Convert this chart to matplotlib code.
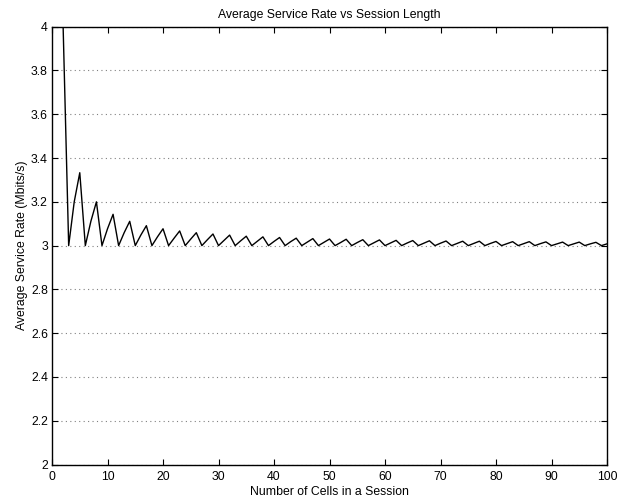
import numpy as np
import matplotlib
matplotlib.use("Agg")
import matplotlib.pyplot as plt

plt.rcParams['font.family'] = ['Liberation Sans', 'DejaVu Sans']

# number of cells in a session
cells = list(range(1, 101))
# average service rate (Mbits/s)
rate = [
    4.000, 4.000, 3.000, 3.200, 3.333, 3.000, 3.111, 3.200, 3.000, 3.077,
    3.143, 3.000, 3.059, 3.111, 3.000, 3.048, 3.091, 3.000, 3.040, 3.077,
    3.000, 3.034, 3.067, 3.000, 3.030, 3.059, 3.000, 3.027, 3.053, 3.000,
    3.024, 3.048, 3.000, 3.022, 3.043, 3.000, 3.020, 3.040, 3.000, 3.019,
    3.037, 3.000, 3.018, 3.034, 3.000, 3.016, 3.032, 3.000, 3.015, 3.030,
    3.000, 3.014, 3.029, 3.000, 3.014, 3.027, 3.000, 3.013, 3.026, 3.000,
    3.012, 3.024, 3.000, 3.012, 3.023, 3.000, 3.011, 3.022, 3.000, 3.011,
    3.021, 3.000, 3.010, 3.020, 3.000, 3.010, 3.020, 3.000, 3.010, 3.019,
    3.000, 3.009, 3.018, 3.000, 3.009, 3.018, 3.000, 3.009, 3.017, 3.000,
    3.008, 3.016, 3.000, 3.008, 3.016, 3.000, 3.008, 3.015, 3.000, 3.008,
]

xticks = [0, 10, 20, 30, 40, 50, 60, 70, 80, 90, 100]
yticks = [2, 2.2, 2.4, 2.6, 2.8, 3, 3.2, 3.4, 3.6, 3.8, 4]
ylabels = ['2', '2.2', '2.4', '2.6', '2.8', '3', '3.2', '3.4', '3.6', '3.8', '4']

fs = 8.8

fig = plt.figure(figsize=(6.36, 4.99), dpi=100)
ax = fig.add_axes([0.0818, 0.0691, 0.8726, 0.8774])

ax.plot(cells, rate, color='black', linewidth=1.0)

ax.set_xlim(0, 100)
ax.set_ylim(2, 4)
ax.set_xticks(xticks)
ax.set_yticks(yticks)
ax.set_yticklabels(ylabels)
ax.yaxis.grid(True, linestyle=(0, (1, 3)), color='gray', linewidth=0.8)
ax.tick_params(direction='in', top=True, right=True, labelsize=fs, length=4)
ax.tick_params(axis='x', pad=5)
ax.tick_params(axis='y', pad=3)
for s in ax.spines.values():
    s.set_linewidth(1.0)

ax.set_title('Average Service Rate vs Session Length', fontsize=fs, pad=6.5)
ax.set_xlabel('Number of Cells in a Session', fontsize=fs, labelpad=1.5)
ax.set_ylabel('Average Service Rate (Mbits/s)', fontsize=fs, labelpad=2)

fig.savefig('out.png', dpi=100)
